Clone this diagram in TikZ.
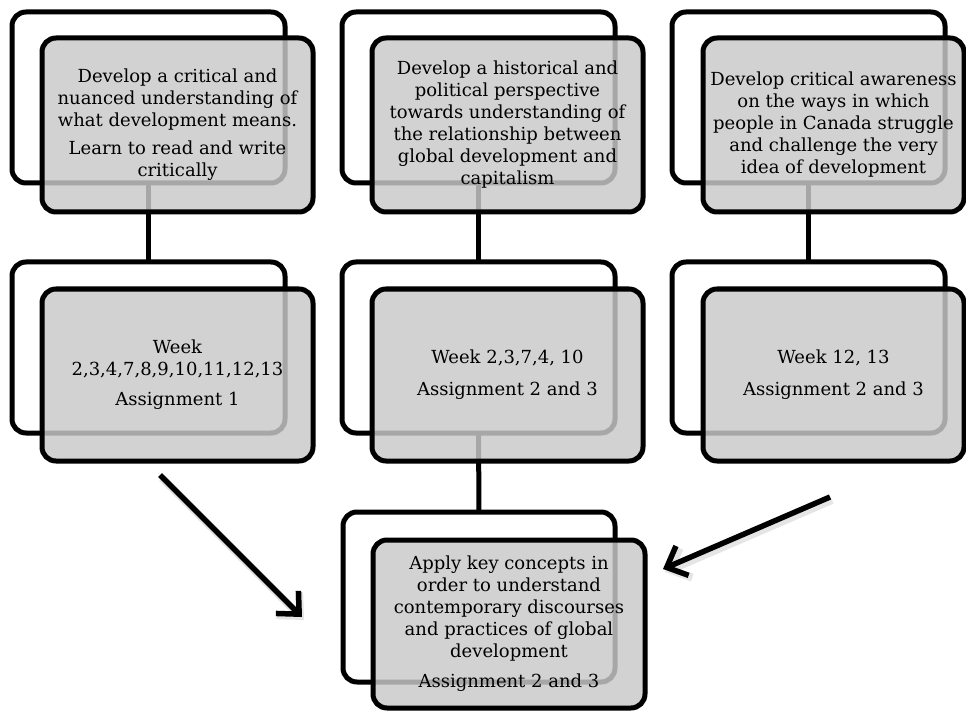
\documentclass[tikz,border=0pt]{standalone}
\usepackage{fontspec}
\setmainfont{DejaVu Serif}
\usetikzlibrary{arrows.meta}
\definecolor{boxgray}{gray}{0.79}
\begin{document}
\begin{tikzpicture}[x=1pt,y=-1pt,
  back/.style={draw=black, line width=5pt, rounded corners=14pt, minimum width=273pt, minimum height=171pt, inner sep=0pt, outer sep=0pt},
  front/.style={draw=black, line width=5pt, rounded corners=14pt, fill=boxgray, fill opacity=0.83, text opacity=1, draw opacity=1, minimum width=271pt, minimum height=174pt, align=center, font=\fontsize{18pt}{22pt}\selectfont, inner sep=0pt, outer sep=0pt},
  link/.style={line width=5pt},
  arr/.style={line width=5.5pt, -{Straight Barb[length=17pt,width=32pt]}},
  arrshadow/.style={line width=8pt, draw=black, draw opacity=0.10, -{Straight Barb[length=17pt,width=32pt]}},
  ]
\useasboundingbox (0,0) rectangle (966,711);
% back frames
\node[back] (b11) at (148.5,97.5) {};
\node[back] (b12) at (478.5,97.5) {};
\node[back] (b13) at (808.5,97.5) {};
\node[back] (b21) at (148.5,347.5) {};
\node[back] (b22) at (478.5,347.5) {};
\node[back] (b23) at (808.5,347.5) {};
\node[back, minimum width=272pt, minimum height=170pt] (b3) at (479,597) {};
% links
\draw[link] (b11.south) -- (b21.north);
\draw[link] (b12.south) -- (b22.north);
\draw[link] (b13.south) -- (b23.north);
\draw[link] (b22.south) -- (b3.north);
% front boxes
\node[front] (f11) at (177.5,125) {Develop a critical and\\nuanced understanding of\\what development means.\\[6pt]Learn to read and write\\critically};
\node[front] (f12) at (507.5,125) {Develop a historical and\\political perspective\\towards understanding of\\the relationship between\\global development and\\capitalism};
\node[front, minimum width=261pt] (f13) at (833.5,125) {Develop critical awareness\\on the ways in which\\people in Canada struggle\\and challenge the very\\idea of development};
\node[front, minimum height=172pt] (f21) at (177.5,375) {Week\\2,3,4,7,8,9,10,11,12,13\\[8pt]Assignment 1};
\node[front, minimum height=172pt] (f22) at (507.5,375) {Week 2,3,7,4, 10\\[10pt]Assignment 2 and 3};
\node[front, minimum width=261pt, minimum height=172pt] (f23) at (833.5,375) {Week 12, 13\\[10pt]Assignment 2 and 3};
\node[front, minimum width=272pt, minimum height=168pt] (f3) at (509,624) {Apply key concepts in\\order to understand\\contemporary discourses\\and practices of global\\development\\[8pt]Assignment 2 and 3};
% arrows
\coordinate (a1s) at (160,475);
\coordinate (a1e) at (302,617);
\coordinate (a2s) at (830,497);
\coordinate (a2e) at (663,569);
\draw[arrshadow] ([shift={(2,3)}]a1s) -- ([shift={(2,3)}]a1e);
\draw[arrshadow] ([shift={(2,3)}]a2s) -- ([shift={(2,3)}]a2e);
\draw[arr] (a1s) -- (a1e);
\draw[arr] (a2s) -- (a2e);
\end{tikzpicture}
\end{document}
